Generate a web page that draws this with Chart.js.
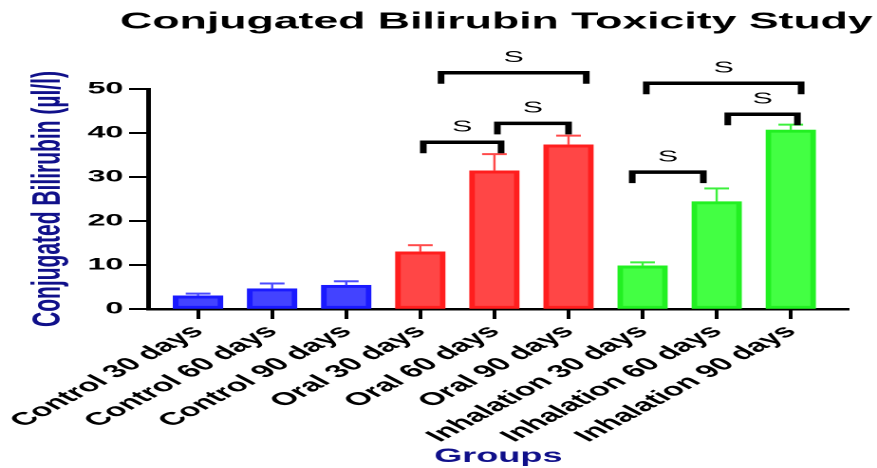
<!DOCTYPE html>
<html>
<head>
<meta charset="utf-8">
<script src="https://cdn.jsdelivr.net/npm/chart.js@4/dist/chart.umd.min.js"></script>
<style>
  html, body { margin: 0; padding: 0; background: #fff; overflow: hidden; }
  #wrap { width: 462px; height: 468px; transform: scaleX(1.8983); transform-origin: 0 0; }
</style>
</head>
<body>
<div id="wrap"><canvas id="c" width="462" height="468"></canvas></div>
<script>
// Study groups and measured conjugated bilirubin (mean and upper error)
const groups = [
  'Control 30 days', 'Control 60 days', 'Control 90 days',
  'Oral 30 days', 'Oral 60 days', 'Oral 90 days',
  'Inhalation 30 days', 'Inhalation 60 days', 'Inhalation 90 days'
];
const meanValues  = [3.0, 4.6, 5.4, 13.0, 31.4, 37.3, 9.8, 24.4, 40.7];
const errorValues = [0.5, 1.2, 0.9, 1.5, 3.8, 2.1, 0.8, 3.0, 1.2];
const yTicks = [0, 10, 20, 30, 40, 50];

// Significance comparisons: bracket ends (group positions) and bracket height (µl/l)
const bracketFrom  = [3.04, 4.04, 3.28, 5.86, 7.15, 6.05];
const bracketTo    = [4.09, 5.00, 5.24, 6.82, 8.09, 8.14];
const bracketLevel = [37.9, 42.2, 53.7, 31.1, 44.25, 51.3];
const bracketText  = ['S', 'S', 'S', 'S', 'S', 'S'];

const FONT = "'Liberation Sans', Arial, Helvetica, sans-serif";
const NAVY = '#10108a';

const fillFor   = i => i < 3 ? '#4343ff' : (i < 6 ? '#ff4646' : '#43ff43');
const borderFor = i => i < 3 ? '#1a1aff' : (i < 6 ? '#ff1e1e' : '#22f022');
const whiskerFor = i => i < 3 ? '#4a4aff' : (i < 6 ? '#ff4a4a' : '#3cf03c');

const errorBars = {
  id: 'errorBars',
  afterDatasetsDraw(chart) {
    const meta = chart.getDatasetMeta(0);
    const y = chart.scales.y;
    const ctx = chart.ctx;
    ctx.save();
    meta.data.forEach((bar, i) => {
      const top = y.getPixelForValue(meanValues[i] + errorValues[i]);
      const base = y.getPixelForValue(meanValues[i]);
      ctx.strokeStyle = whiskerFor(i);
      ctx.lineWidth = 1.2;
      ctx.beginPath();
      ctx.moveTo(bar.x, base);
      ctx.lineTo(bar.x, top);
      ctx.stroke();
      ctx.lineWidth = 2;
      ctx.beginPath();
      ctx.moveTo(bar.x - 6.5, top);
      ctx.lineTo(bar.x + 6.5, top);
      ctx.stroke();
    });
    ctx.restore();
  }
};

const brackets = {
  id: 'brackets',
  afterDraw(chart) {
    const x = chart.scales.x, y = chart.scales.y, ctx = chart.ctx;
    ctx.save();
    ctx.strokeStyle = '#000';
    ctx.lineWidth = 3.5;
    ctx.lineCap = 'butt';
    ctx.lineJoin = 'miter';
    ctx.fillStyle = '#000';
    ctx.font = '16px ' + FONT;
    ctx.textAlign = 'center';
    ctx.textBaseline = 'middle';
    bracketLevel.forEach((lvl, i) => {
      const x1 = x.getPixelForValue(bracketFrom[i]);
      const x2 = x.getPixelForValue(bracketTo[i]);
      const yy = y.getPixelForValue(lvl);
      ctx.beginPath();
      ctx.moveTo(x1, yy + 11);
      ctx.lineTo(x1, yy);
      ctx.lineTo(x2, yy);
      ctx.lineTo(x2, yy + 11);
      ctx.stroke();
      ctx.fillText(bracketText[i], (x1 + x2) / 2, yy - 15);
    });
    ctx.restore();
  }
};

const chartTitle = {
  id: 'chartTitle',
  afterDraw(chart) {
    const ctx = chart.ctx, a = chart.chartArea;
    ctx.save();
    ctx.fillStyle = '#000';
    ctx.font = 'bold 23.5px ' + FONT;
    ctx.textAlign = 'center';
    ctx.textBaseline = 'middle';
    ctx.fillText('Conjugated Bilirubin Toxicity Study', (a.left + a.right) / 2 - 1, 22);
    ctx.restore();
  }
};

new Chart(document.getElementById('c'), {
  type: 'bar',
  data: {
    datasets: [{
      data: meanValues.map((v, i) => ({ x: i, y: v })),
      backgroundColor: groups.map((g, i) => fillFor(i)),
      borderColor: groups.map((g, i) => borderFor(i)),
      borderWidth: 3,
      borderSkipped: false,
      barThickness: 26
    }]
  },
  options: {
    responsive: false,
    devicePixelRatio: 2,
    animation: false,
    layout: { padding: { top: 89, right: 15, left: 0, bottom: 0 } },
    plugins: { legend: { display: false }, tooltip: { enabled: false }, title: { display: false } },
    scales: {
      x: {
        type: 'linear',
        offset: false,
        min: -0.675,
        max: 8.78,
        afterBuildTicks(scale) { scale.ticks = groups.map((g, i) => ({ value: i })); },
        afterFit(scale) { scale.height = 159; },
        grid: { offset: false, drawOnChartArea: false, drawTicks: true, tickLength: 10, tickWidth: 2, tickColor: '#000' },
        border: { display: true, color: '#000', width: 2.5 },
        ticks: {
          autoSkip: false, maxRotation: 45, minRotation: 45, padding: 2,
          color: '#000', font: { family: FONT, size: 18, weight: 'bold' },
          callback: (v, i) => groups[i]
        },
        title: { display: true, text: 'Groups', color: NAVY, padding: { top: 0, bottom: 0 },
                 font: { family: FONT, size: 19, weight: 'bold' } }
      },
      y: {
        min: 0,
        max: 50,
        afterBuildTicks(scale) { scale.ticks = yTicks.map(v => ({ value: v })); },
        afterFit(scale) { scale.width = 78; },
        grid: { drawOnChartArea: false, drawTicks: true, tickLength: 10, tickWidth: 2, tickColor: '#000' },
        border: { display: true, color: '#000', width: 2.5 },
        ticks: { padding: 3, color: '#000', font: { family: FONT, size: 17, weight: 'bold' } },
        title: { display: true, text: 'Conjugated Bilirubin (µl/l)', color: NAVY, padding: { top: 13, bottom: 0 },
                 font: { family: FONT, size: 21, weight: 'bold' } }
      }
    }
  },
  plugins: [errorBars, brackets, chartTitle]
});
</script>
</body>
</html>
